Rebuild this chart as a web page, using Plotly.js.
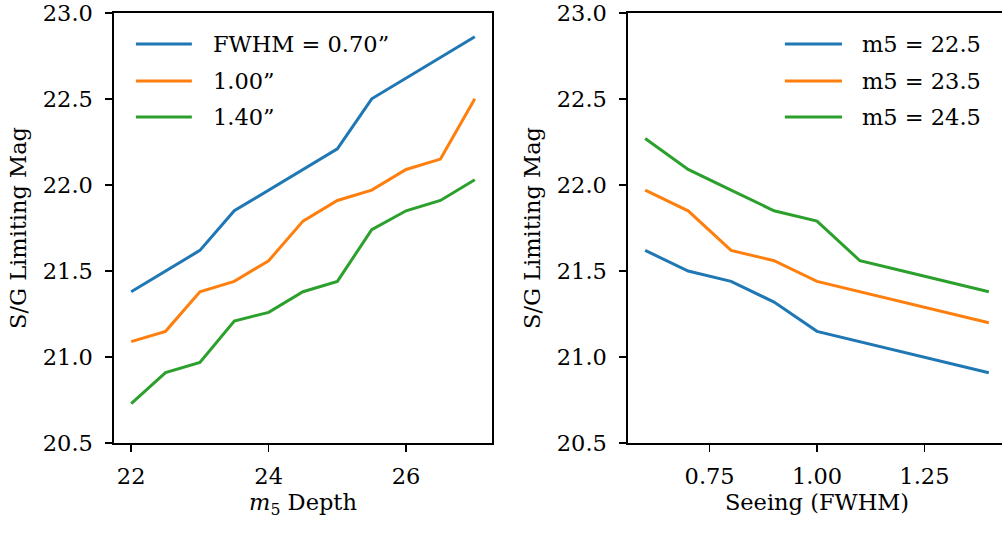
<!DOCTYPE html>
<html>
<head>
<meta charset="utf-8">
<script src="https://cdn.plot.ly/plotly-3.0.1.min.js"></script>
<style>
  html, body { margin: 0; padding: 0; overflow: hidden; background: #fff; }
  #chart { width: 1008px; height: 538px; }
</style>
</head>
<body>
<div id="chart"></div>
<script>
// ---- Data (left panel: limiting mag vs m5 depth) ----
const depth = [22, 22.5, 23, 23.5, 24, 24.5, 25, 25.5, 26, 26.5, 27];
const fwhm070 = [21.38, 21.50, 21.62, 21.85, 21.97, 22.09, 22.21, 22.50, 22.62, 22.74, 22.86];
const fwhm100 = [21.09, 21.15, 21.38, 21.44, 21.56, 21.79, 21.91, 21.97, 22.09, 22.15, 22.50];
const fwhm140 = [20.73, 20.91, 20.97, 21.21, 21.26, 21.38, 21.44, 21.74, 21.85, 21.91, 22.03];
const leftNames = ['FWHM = 0.70\u201D', '1.00\u201D', '1.40\u201D'];

// ---- Data (right panel: limiting mag vs seeing) ----
const seeing = [0.6, 0.7, 0.8, 0.9, 1.0, 1.1, 1.2, 1.3, 1.4];
const m5_225 = [21.62, 21.50, 21.44, 21.32, 21.15, 21.09, 21.03, 20.97, 20.91];
const m5_235 = [21.97, 21.85, 21.62, 21.56, 21.44, 21.38, 21.32, 21.26, 21.20];
const m5_245 = [22.27, 22.09, 21.97, 21.85, 21.79, 21.56, 21.50, 21.44, 21.38];
const rightNames = ['m5 = 22.5', 'm5 = 23.5', 'm5 = 24.5'];

// ---- Tick labels ----
const yTicks = [20.5, 21.0, 21.5, 22.0, 22.5, 23.0];
const xTicksLeft = [22, 24, 26];
const xTicksRight = [0.75, 1.00, 1.25];

const colors = ['#1f77b4', '#ff7f0e', '#2ca02c'];
const FONT = '"DejaVu Serif", "Liberation Serif", serif';
const FS = 22.5;

const W = 1008, H = 538;
const leftDom = [114 / W, 492 / W];
const rightDom = [628 / W, 1006 / W];
const yDom = [(H - 443.3) / H, (H - 12.7) / H];

const leftSeries = [fwhm070, fwhm100, fwhm140];
const rightSeries = [m5_225, m5_235, m5_245];

const traces = [];
leftSeries.forEach((ys, i) => traces.push({
  x: depth, y: ys, type: 'scatter', mode: 'lines', name: leftNames[i],
  line: {color: colors[i], width: 3}, xaxis: 'x', yaxis: 'y', showlegend: false
}));
rightSeries.forEach((ys, i) => traces.push({
  x: seeing, y: ys, type: 'scatter', mode: 'lines', name: rightNames[i],
  line: {color: colors[i], width: 3}, xaxis: 'x2', yaxis: 'y2', showlegend: false
}));

// custom legends (matplotlib style, long handles)
const shapes = [], annotations = [];
const legRows = [0.9273, 0.8414, 0.7578];
function addLegend(names, xref, yref, x0, x1, xt) {
  names.forEach((n, i) => {
    shapes.push({type: 'line', xref: xref, yref: yref, x0: x0, x1: x1,
      y0: legRows[i], y1: legRows[i], line: {color: colors[i], width: 3}});
    annotations.push({xref: xref, yref: yref, x: xt, y: legRows[i], text: n,
      showarrow: false, xanchor: 'left', yanchor: 'middle',
      font: {family: FONT, size: FS, color: '#000'}});
  });
}
addLegend(leftNames, 'x domain', 'y domain', 0.058, 0.206, 0.256);
addLegend(rightNames, 'x2 domain', 'y2 domain', 0.415, 0.566, 0.613);

const axisCommon = {
  showline: true, linecolor: '#000', linewidth: 1.6, mirror: true,
  ticks: 'outside', ticklen: 7, tickwidth: 1.6, tickcolor: '#000',
  showgrid: false, zeroline: false, ticklabeloverflow: 'allow',
  tickfont: {family: FONT, size: FS, color: '#000'}
};

const layout = {
  width: W, height: H,
  margin: {l: 0, r: 0, t: 0, b: 0},
  paper_bgcolor: '#fff', plot_bgcolor: '#fff',
  font: {family: FONT, size: FS, color: '#000'},
  showlegend: false,
  xaxis: Object.assign({}, axisCommon, {
    domain: leftDom, range: [21.75, 27.25], tickvals: xTicksLeft, tickformat: 'd',
    anchor: 'y', ticklabelstandoff: 5,
    title: {text: '<i>m</i><sub>5</sub> Depth', standoff: 6, font: {family: FONT, size: FS, color: '#000'}}
  }),
  yaxis: Object.assign({}, axisCommon, {
    domain: yDom, range: [20.5, 23.0], tickvals: yTicks, tickformat: '.1f',
    anchor: 'x', ticklabelstandoff: 8,
    title: {text: 'S/G Limiting Mag', standoff: 10, font: {family: FONT, size: FS, color: '#000'}}
  }),
  xaxis2: Object.assign({}, axisCommon, {
    domain: rightDom, range: [0.56, 1.44], tickvals: xTicksRight, tickformat: '.2f',
    anchor: 'y2', ticklabelstandoff: 5,
    title: {text: 'Seeing (FWHM)', standoff: 6, font: {family: FONT, size: FS, color: '#000'}}
  }),
  yaxis2: Object.assign({}, axisCommon, {
    domain: yDom, range: [20.5, 23.0], tickvals: yTicks, tickformat: '.1f',
    anchor: 'x2', ticklabelstandoff: 8,
    title: {text: 'S/G Limiting Mag', standoff: 10, font: {family: FONT, size: FS, color: '#000'}}
  }),
  shapes: shapes,
  annotations: annotations
};

Plotly.newPlot('chart', traces, layout, {staticPlot: true, displayModeBar: false});
</script>
</body>
</html>
